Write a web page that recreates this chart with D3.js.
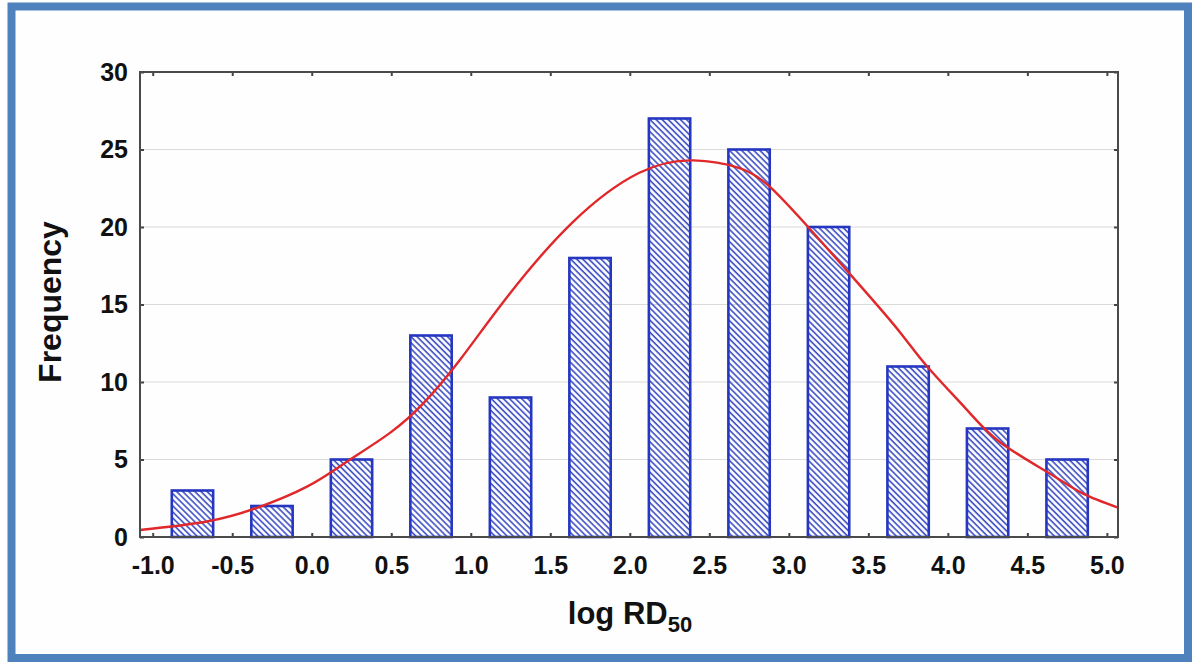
<!DOCTYPE html>
<head>
<meta charset="utf-8">
<script src="https://d3js.org/d3.v7.min.js"></script>
</head>
<style>
  body { margin: 0; background: #fff; }
  svg text { font-family: "Liberation Sans", Arial, sans-serif; font-weight: bold; fill: #111; }
</style>
<body>
<svg id="chart" width="1197" height="664"></svg>
<script>
// histogram bins (bin centres) and counts
const binCenters = [-0.75, -0.25, 0.25, 0.75, 1.25, 1.75, 2.25, 2.75, 3.25, 3.75, 4.25, 4.75];
const counts     = [3, 2, 5, 13, 9, 18, 27, 25, 20, 11, 7, 5];

// fitted normal curve
const fitX = [-1.08, -0.66, -0.34, -0.03, 0.22, 0.49, 0.70, 0.93, 1.23, 1.64, 2.06, 2.40, 2.69, 2.88, 3.13, 3.45, 3.70, 3.87, 4.12, 4.33, 4.64, 4.85, 5.07];
const fitY = [0.45, 1.0, 1.9, 3.25, 4.85, 6.7, 8.6, 11.4, 15.5, 20.3, 23.5, 24.3, 23.8, 22.6, 19.9, 16.2, 13.2, 11.0, 8.2, 6.1, 4.1, 2.8, 1.9];

// tick labels
const xTicks = [-1.0, -0.5, 0.0, 0.5, 1.0, 1.5, 2.0, 2.5, 3.0, 3.5, 4.0, 4.5, 5.0];
const yTicks = [0, 5, 10, 15, 20, 25, 30];

const svg = d3.select("#chart");
const mLeft = 140, mRight = 1118, mTop = 72, mBottom = 537;
const binWidth = 0.5;

const x = d3.scaleLinear().domain([-1.08, 5.07]).range([mLeft, mRight]);
const y = d3.scaleLinear().domain([0, 30]).range([mBottom, mTop]);

// hatch pattern for the bars
const defs = svg.append("defs");
defs.append("pattern")
    .attr("id", "hatch")
    .attr("patternUnits", "userSpaceOnUse")
    .attr("width", 4.3)
    .attr("height", 10)
    .attr("patternTransform", "rotate(-45)")
  .append("line")
    .attr("x1", 1).attr("y1", 0)
    .attr("x2", 1).attr("y2", 10)
    .attr("stroke", "#3a4cc4")
    .attr("stroke-width", 1.6);

// outer blue frame
svg.append("rect")
    .attr("x", 11.5).attr("y", 6.5)
    .attr("width", 1176.5).attr("height", 651.5)
    .attr("fill", "#fefefe")
    .attr("stroke", "#4f81bd")
    .attr("stroke-width", 8);

// grid lines
svg.append("g")
  .selectAll("line")
  .data(yTicks.filter(d => d > 0 && d < 30))
  .join("line")
    .attr("x1", mLeft).attr("x2", mRight)
    .attr("y1", d => y(d)).attr("y2", d => y(d))
    .attr("stroke", "#dadada")
    .attr("stroke-width", 1.2);

// bars
const barW = (x(binWidth) - x(0)) * 0.52;
svg.append("g")
  .selectAll("rect")
  .data(binCenters)
  .join("rect")
    .attr("x", d => x(d) - barW / 2)
    .attr("y", (d, i) => y(counts[i]))
    .attr("width", barW)
    .attr("height", (d, i) => y(0) - y(counts[i]))
    .attr("fill", "url(#hatch)")
    .attr("stroke", "#2536c0")
    .attr("stroke-width", 2.6);

// normal fit
const line = d3.line()
    .x((d, i) => x(fitX[i]))
    .y(d => y(d))
    .curve(d3.curveNatural);
svg.append("path")
    .attr("d", line(fitY))
    .attr("fill", "none")
    .attr("stroke", "#e0282a")
    .attr("stroke-width", 2.4);

// axes with inward ticks
const xAxis = svg.append("g")
    .attr("transform", `translate(0,${mBottom})`)
    .call(d3.axisBottom(x).tickValues(xTicks).tickSize(-4).tickPadding(19).tickFormat(d => d.toFixed(1)));
const yAxis = svg.append("g")
    .attr("transform", `translate(${mLeft},0)`)
    .call(d3.axisLeft(y).tickValues(yTicks).tickSize(-4).tickPadding(12));
svg.append("g")
    .attr("transform", `translate(0,${mTop})`)
    .call(d3.axisTop(x).tickValues(xTicks).tickSize(-4).tickFormat(""));
svg.append("g")
    .attr("transform", `translate(${mRight},0)`)
    .call(d3.axisRight(y).tickValues(yTicks).tickSize(-4).tickFormat(""));

svg.selectAll(".domain").remove();
svg.selectAll(".tick line").attr("stroke", "#444").attr("stroke-width", 2);
xAxis.selectAll("text").style("font-size", "25px").style("font-family", "Liberation Sans").style("font-weight", "bold").attr("fill", "#111");
yAxis.selectAll("text").style("font-size", "25px").style("font-family", "Liberation Sans").style("font-weight", "bold").attr("fill", "#111");

// plot frame
svg.append("rect")
    .attr("x", mLeft).attr("y", mTop)
    .attr("width", mRight - mLeft).attr("height", mBottom - mTop)
    .attr("fill", "none")
    .attr("stroke", "#4a4a4a")
    .attr("stroke-width", 2);

// axis titles
svg.append("text")
    .attr("transform", "translate(61,302) rotate(-90)")
    .attr("text-anchor", "middle")
    .style("font-size", "32px")
    .text("Frequency");

const xt = svg.append("text")
    .attr("x", 630).attr("y", 624)
    .attr("text-anchor", "middle")
    .style("font-size", "31px");
xt.append("tspan").text("log RD");
xt.append("tspan").attr("dy", 8).style("font-size", "22px").text("50");
</script>
</body>
